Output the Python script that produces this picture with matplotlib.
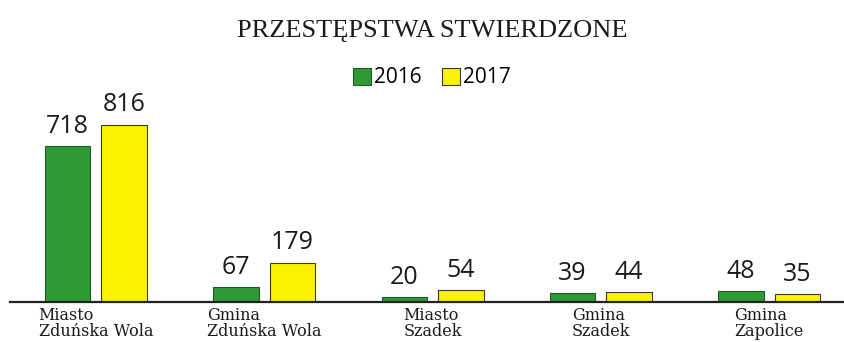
import numpy as np
import matplotlib.pyplot as plt
from matplotlib.patches import Patch

categories = ["Miasto\nZduńska Wola", "Gmina\nZduńska Wola", "Miasto\nSzadek",
              "Gmina\nSzadek", "Gmina\nZapolice"]
years = ["2016", "2017"]
values_2016 = [718, 67, 20, 39, 48]
values_2017 = [816, 179, 54, 44, 35]

green = "#2f9a35"
yellow = "#fbf200"
sans = ["Open Sans", "DejaVu Sans"]
serif = ["DejaVu Serif"]

fig = plt.figure(figsize=(8.45, 3.42), dpi=100)
ax = fig.add_axes([10 / 845, 40.5 / 342, 1 - 10 / 845, 301.5 / 342])

x = np.arange(len(categories))
w = 0.27
off = 0.168
b1 = ax.bar(x - off, values_2016, w, color=green, edgecolor="#1f5a25", linewidth=0.8)
b2 = ax.bar(x + off, values_2017, w, color=yellow, edgecolor="#3a3a2a", linewidth=0.8)

for bars in (b1, b2):
    for rect in bars:
        h = rect.get_height()
        ax.annotate(f"{h:.0f}", (rect.get_x() + rect.get_width() / 2, h),
                    xytext=(0, 9.5), textcoords="offset points",
                    ha="center", va="baseline", fontsize=18, family=sans,
                    color="#1a1a1a")

# two-line place names under each group
for xi, name in zip(x, categories):
    ax.annotate(name, (xi, 0), xytext=(0, -4), textcoords="offset points",
                ha="center", va="top", multialignment="left",
                fontsize=11.5, family=serif, color="#1a1a1a", linespacing=0.92)

ax.set_xlim(-0.51, 4.45)
ax.set_ylim(0, 1390)
for s in ("top", "right", "left"):
    ax.spines[s].set_visible(False)
ax.spines["bottom"].set_linewidth(1.6)
ax.spines["bottom"].set_color("#222222")
ax.set_xticks([])
ax.set_yticks([])

fig.text(0.512, 0.91, "PRZESTĘPSTWA STWIERDZONE", ha="center", va="center",
         fontsize=19, family=["Liberation Serif"], color="#1a1a1a")

handles = [Patch(facecolor=green, edgecolor="#1f5a25", linewidth=0.8),
           Patch(facecolor=yellow, edgecolor="#3a3a2a", linewidth=0.8)]
fig.legend(handles, years, loc="center", bbox_to_anchor=(0.511, 0.772), ncol=2,
           frameon=False, handlelength=0.85, handleheight=0.85, handletextpad=0.15,
           columnspacing=1.0, prop={"family": sans, "size": 15})

fig.savefig("out.png", dpi=100)
